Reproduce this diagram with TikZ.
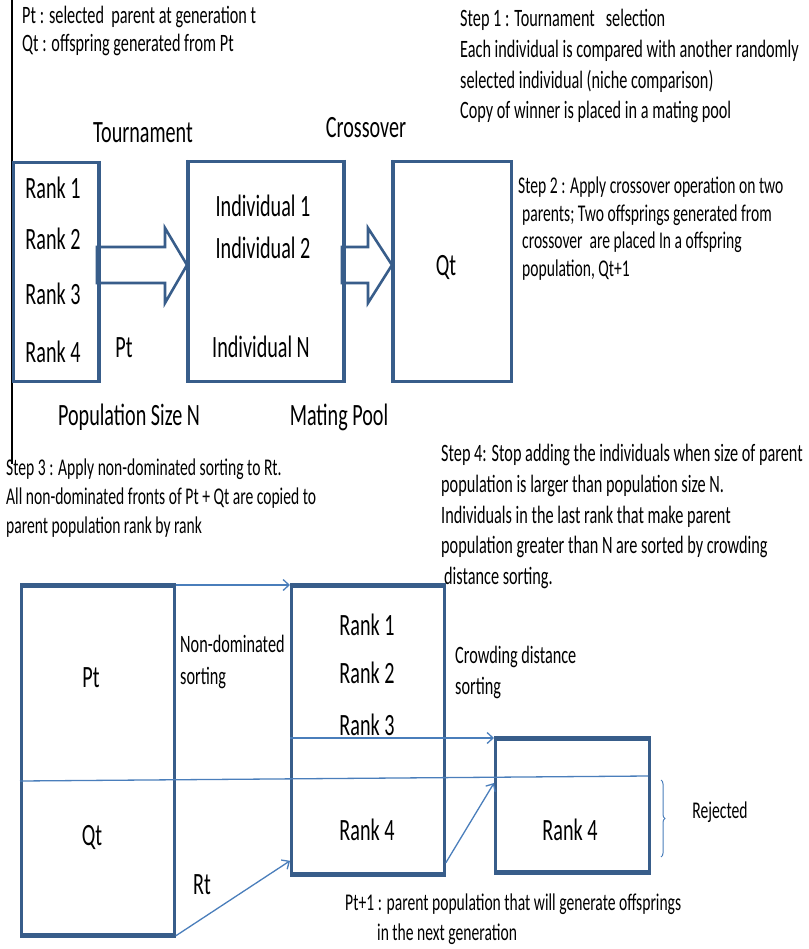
\documentclass[tikz,border=0pt]{standalone}
\usepackage{fontspec}
\setmainfont{Carlito}[FakeStretch=0.65]
\usetikzlibrary{arrows.meta,decorations.pathreplacing,calc}
\definecolor{boxblue}{HTML}{385D8A}
\definecolor{lineblue}{HTML}{4A7EBB}
\begin{document}
\begin{tikzpicture}[x=1pt,y=-1pt,
  box/.style={draw=boxblue, line width=2.8pt, inner sep=0pt, anchor=north west},
  hedge/.style={draw=boxblue, line width=4.2pt},
  barrow/.style={draw=boxblue, line width=2.6pt, fill=white, line join=miter},
  conn/.style={draw=lineblue, line width=1.3pt, -{Straight Barb[length=6pt,width=11pt]}},
  thin/.style={draw=lineblue, line width=1.3pt},
  big/.style={font=\fontsize{31}{37}\selectfont, inner sep=0pt},
  txt/.style={inner sep=0pt, anchor=north west, align=left}
]
\useasboundingbox (0,0) rectangle (808,949);
\fill[white] (0,0) rectangle (808,949);

% left vertical rule
\coordinate (vtop) at (12,0);
\coordinate (vbot) at (12,464);
\draw[black, line width=1.2pt] (vtop) -- (vbot);

% ---------- top part ----------
\node[txt, font=\fontsize{25}{28}\selectfont] (legend) at (22,6)
  {Pt : selected\ \ parent at generation t\\Qt : offspring generated from Pt};

\node[txt, font=\fontsize{25}{30.8}\selectfont] (step1) at (460,9)
  {Step 1 : Tournament\ \ \ selection\\
   Each individual is compared with another randomly\\
   selected individual (niche comparison)\\
   Copy of winner is placed in a mating pool};

\node[txt, font=\fontsize{24}{27.4}\selectfont] (step2) at (518,177)
  {Step 2 : Apply crossover operation on two\\
   \hspace*{4pt}parents; Two offsprings generated from\\
   \hspace*{4pt}crossover\ \ are placed In a offspring\\
   \hspace*{4pt}population, Qt+1};

\node[box, minimum width=85pt, minimum height=219pt] (pop) at (12,161) {};
\node[box, minimum width=155pt, minimum height=220pt] (pool) at (187,160) {};
\node[box, minimum width=118pt, minimum height=220pt] (off) at (392,160) {};

\node[big] (r1) at (53,188) {Rank 1};
\node[big] (r2) at (53,239) {Rank 2};
\node[big] (r3) at (53,294) {Rank 3};
\node[big] (r4) at (53,352) {Rank 4};
\node[big] (pt) at (124,348) {Pt};
\node[big] (i1) at (263,206) {Individual 1};
\node[big] (i2) at (263,248) {Individual 2};
\node[big] (iN) at (261,347) {Individual N};
\node[big] (qt) at (446,267) {Qt};
\node[big] (tour) at (143,133) {Tournament};
\node[big] (cross) at (366,128) {Crossover};
\node[big] (popsize) at (129,417) {Population Size N};
\node[big] (mating) at (339,417) {Mating Pool};

% block arrows
\draw[barrow]
  (97,247) -- (165,247) -- (165,228) -- (187,265) -- (165,303) -- (165,283) -- (97,283) -- cycle;
\draw[barrow]
  (342,247) -- (368,247) -- (368,228) -- (392,265) -- (368,303) -- (368,283) -- (342,283) -- cycle;
\draw[boxblue, line width=2.8pt] (pop.north east) -- (pop.south east);
\draw[boxblue, line width=2.8pt] (pool.north west) -- (pool.south west);
\draw[boxblue, line width=2.8pt] (pool.north east) -- (pool.south east);
\draw[boxblue, line width=2.8pt] (off.north west) -- (off.south west);

% ---------- middle texts ----------
\node[txt, font=\fontsize{24}{29}\selectfont] (step3) at (6,459)
  {Step 3 : Apply non-dominated sorting to Rt.\\
   All non-dominated fronts of Pt + Qt are copied to\\
   parent population rank by rank};

\node[txt, font=\fontsize{25}{30.8}\selectfont] (step4) at (441,444)
  {Step 4: Stop adding the individuals when size of parent\\
   population is larger than population size N.\\
   Individuals in the last rank that make parent\\
   population greater than N are sorted by crowding\\
   \hspace*{3pt}distance sorting.};

% ---------- bottom part ----------
\node[box, minimum width=153pt, minimum height=348pt] (rt) at (20,585) {};
\node[box, minimum width=153pt, minimum height=287pt] (sorted) at (290,585) {};
\node[box, minimum width=154pt, minimum height=132pt] (next) at (494,738) {};
\draw[hedge] (rt.north west) -- (rt.north east);
\draw[hedge] (rt.south west) -- (rt.south east);
\draw[hedge] (sorted.north west) -- (sorted.north east);
\draw[hedge] (sorted.south west) -- (sorted.south east);
\draw[hedge] (next.north west) -- (next.north east);
\draw[hedge] (next.south west) -- (next.south east);

\node[big] (bpt) at (91,678) {Pt};
\node[big] (bqt) at (92,837) {Qt};
\node[big] (brt) at (202,885) {Rt};
\node[big] (s1) at (367,625) {Rank 1};
\node[big] (s2) at (367,673) {Rank 2};
\node[big] (s3) at (367,725) {Rank 3};
\node[big] (s4) at (367,830) {Rank 4};
\node[big] (n4) at (570,830) {Rank 4};

\node[txt, font=\fontsize{25}{32}\selectfont] (nds) at (180,635)
  {Non-dominated\\sorting};
\node[txt, font=\fontsize{25}{31}\selectfont] (cds) at (455,646)
  {Crowding distance\\sorting};
\node[txt, font=\fontsize{24}{30}\selectfont] (ptp1) at (345,894)
  {Pt+1 : parent population that will generate offsprings\\
   \hspace*{32pt}in the next generation};
\node[inner sep=0pt, font=\fontsize{24}{29}\selectfont] (rej) at (720,812) {Rejected};

% divider and connectors
\coordinate (dl) at (20,781);
\coordinate (dr) at (648,776);
\draw[thin] (dl) -- (dr);
\draw[conn] (rt.north east) -- (sorted.north west);
\draw[conn] (sorted.west |- next.north) -- (next.north west);
\draw[conn] (rt.south east) -- ($(sorted.south west)+(0,-14)$);
\draw[conn] ($(sorted.south east)+(0,-12)$) -- ($(next.north west)+(0,45)$);

% brace
\coordinate (bt) at (661,780);
\coordinate (bb) at (661,857);
\draw[thin, line width=1pt, decorate, decoration={brace, amplitude=4pt}] (bt) -- (bb);
\end{tikzpicture}
\end{document}
